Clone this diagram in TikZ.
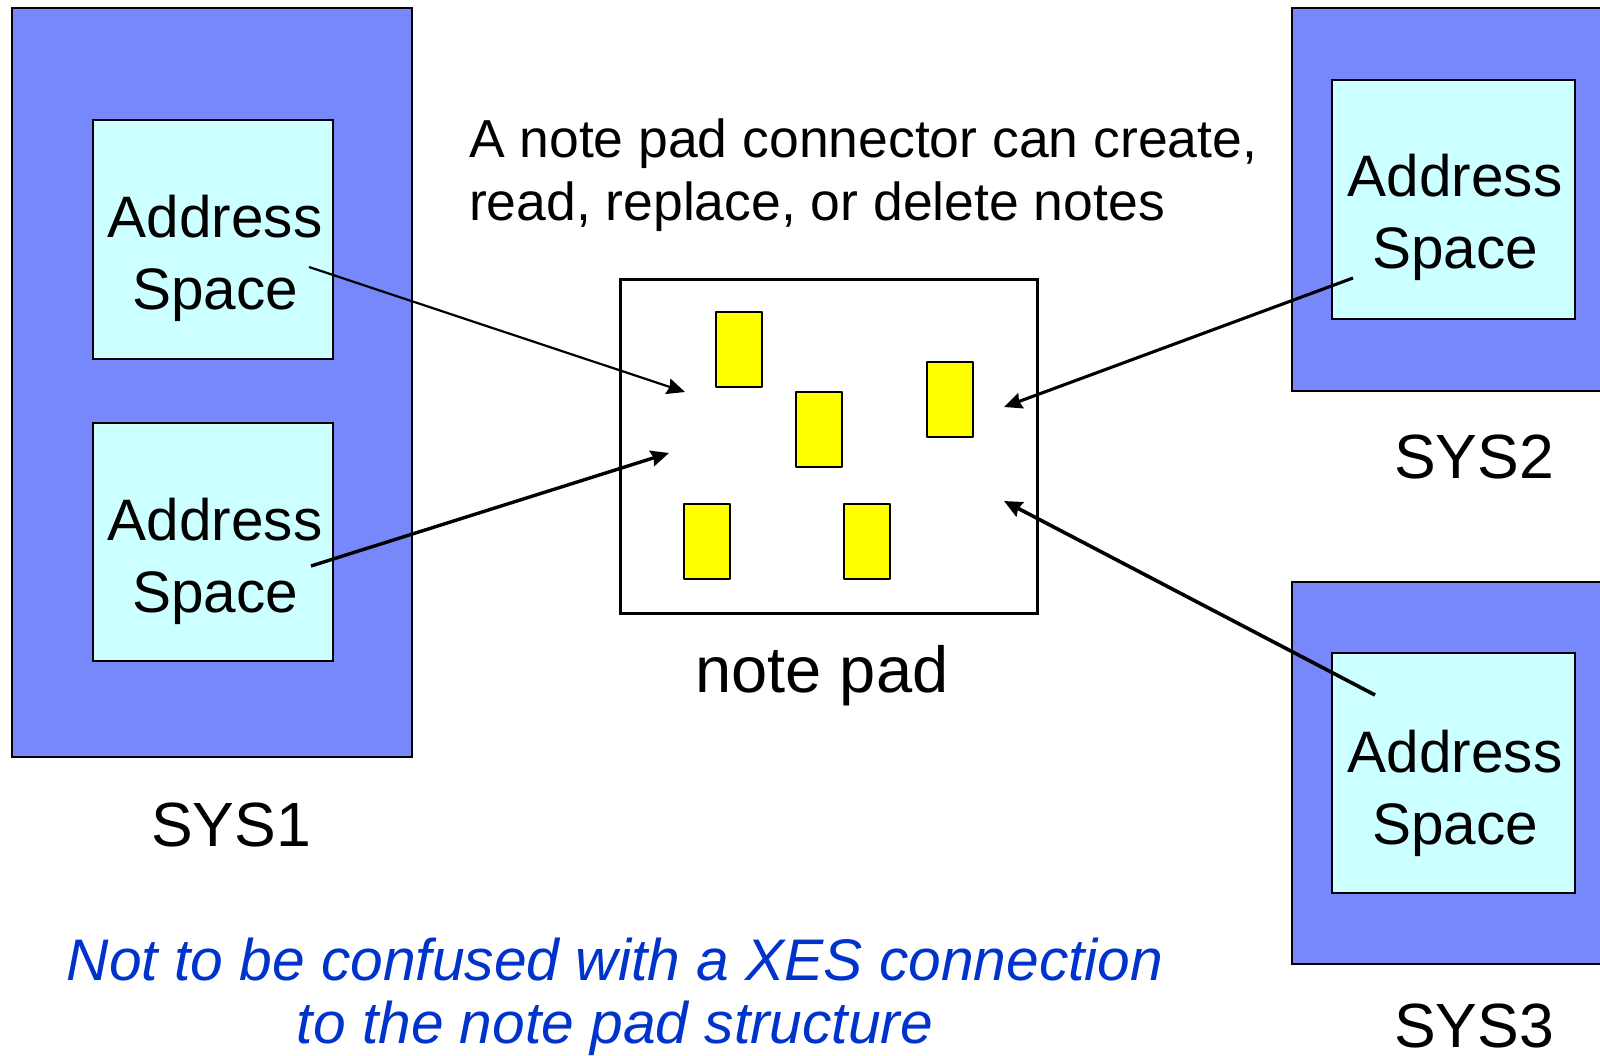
\documentclass[tikz,border=0pt]{standalone}
\usepackage{fontspec}
\setmainfont{Liberation Sans}
\usetikzlibrary{arrows.meta}
\definecolor{sysblue}{RGB}{119,136,250}
\definecolor{ascyan}{RGB}{204,255,255}
\definecolor{noteyellow}{RGB}{255,255,0}
\definecolor{captionblue}{RGB}{0,51,204}

\begin{document}
\begin{tikzpicture}[x=1pt,y=-1pt,
  every node/.style={inner sep=0pt, outer sep=0pt},
  sysbox/.style={draw=black, line width=2pt, fill=sysblue, anchor=north west},
  asbox/.style={draw=black, line width=2pt, fill=ascyan, anchor=north west},
  astext/.style={anchor=north, align=center, font=\fontsize{58.5}{71.5}\selectfont},
  syslabel/.style={anchor=base, font=\fontsize{62.5}{70}\selectfont},
  padbox/.style={draw=black, line width=3pt, fill=white, anchor=north west},
  note/.style={draw=black, line width=2.5pt, line join=round, fill=noteyellow,
    anchor=north west, minimum width=46pt, minimum height=75pt},
  link/.style={draw=black, -{Stealth[length=18pt,width=16pt,inset=2pt]}},
]
\useasboundingbox (0,0) rectangle (1600,1055);

% systems
\node[sysbox, minimum width=400pt, minimum height=749pt] (sys1) at (12,8) {};
\node[sysbox, minimum width=330pt, minimum height=383pt] (sys2) at (1292,8) {};
\node[sysbox, minimum width=330pt, minimum height=382pt] (sys3) at (1292,582) {};

% address spaces
\node[asbox, minimum width=240pt, minimum height=239pt] (as1) at (93,120) {};
\node[asbox, minimum width=240pt, minimum height=238pt] (as2) at (93,423) {};
\node[asbox, minimum width=243pt, minimum height=239pt] (as3) at (1332,80) {};
\node[asbox, minimum width=243pt, minimum height=240pt] (as4) at (1332,653) {};

\node[astext] (as1t) at (215,195.2) {Address\\Space};
\node[astext] (as2t) at (215,498.2) {Address\\Space};
\node[astext] (as3t) at (1455,154.2) {Address\\Space};
\node[astext] (as4t) at (1455,730.2) {Address\\Space};

\node[syslabel] (sys1l) at (231,846) {SYS1};
\node[syslabel] (sys2l) at (1474,478) {SYS2};
\node[syslabel] (sys3l) at (1474,1047) {SYS3};

% the note pad and its notes
\node[padbox, minimum width=417pt, minimum height=334pt] (pad) at (620,279) {};
\node[note] (n1) at (716,312) {};
\node[note] (n2) at (796,392) {};
\node[note] (n3) at (927,362) {};
\node[note] (n4) at (684,504) {};
\node[note] (n5) at (844,504) {};
\node[anchor=base, font=\fontsize{65}{70}\selectfont] (padl) at (822,692) {note pad};

% connector end points
\coordinate (s1) at (309,267);
\coordinate (s2) at (311,566);
\coordinate (s3) at (1353,278);
\coordinate (s4) at (1375,695);
\coordinate (e1) at (685,392);
\coordinate (e2) at (669,453);
\coordinate (e3) at (1004,407);
\coordinate (e4) at (1004,501);

\draw[link, line width=2.2pt] (s1) -- (e1);
\draw[link, line width=3.4pt] (s2) -- (e2);
\draw[link, line width=3.1pt] (s3) -- (e3);
\draw[link, line width=3.6pt] (s4) -- (e4);

% captions
\node[anchor=north west, align=left, font=\fontsize{53.5}{62.5}\selectfont] (desc) at (469,119)
  {A note pad connector can create,\\read, replace, or delete notes};
\node[anchor=north, align=center, text=captionblue, font=\fontsize{58.7}{63}\selectfont\itshape] (warn) at (615,937.5)
  {Not to be confused with a XES connection\\to the note pad structure};
\end{tikzpicture}
\end{document}
